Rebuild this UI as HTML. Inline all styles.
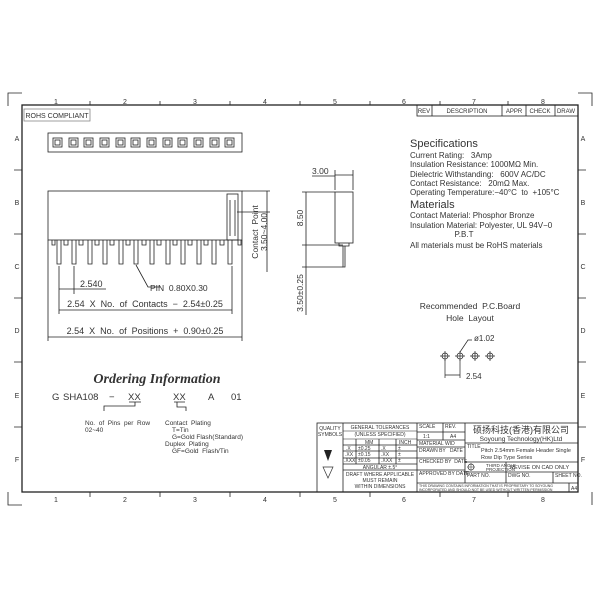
<!DOCTYPE html>
<html><head><meta charset="utf-8"><style>
body{margin:0;background:#fff}
svg{display:block}
text{font-family:"Liberation Sans","Noto Sans CJK SC",sans-serif;fill:#333;white-space:pre}
</style></head><body>
<svg width="600" height="600" viewBox="0 0 600 600" xmlns="http://www.w3.org/2000/svg" xml:space="preserve">
<g stroke="#222" fill="none" stroke-width="0.8">
<path d="M8,106 V93 H22 M578,93 H592 V106 M8,492 V505 H22 M592,492 V505"/>
<rect x="22" y="105" width="556" height="387" stroke-width="1.3"/>
<path d="M90,101 V105 M160,101 V105 M230,101 V105 M300,101 V105 M370,101 V105 M440,101 V105 M508,101 V105"/>
<path d="M90,492 V497 M160,492 V497 M230,492 V497 M300,492 V497 M370,492 V497 M440,492 V497 M508,492 V497"/>
<path d="M14,170 H22 M14,234 H22 M14,298 H22 M14,362 H22 M14,427 H22"/>
<path d="M578,170 H586 M578,234 H586 M578,298 H586 M578,362 H586 M578,427 H586"/>
<rect x="417" y="105" width="161" height="11"/>
<path d="M432,105V116 M502,105V116 M526,105V116 M555,105V116"/>
<rect x="24" y="109" width="66" height="12" stroke="#888"/>
<rect x="48" y="133" width="194" height="19"/>
</g>
<g font-size="7" text-anchor="middle">
<text x="56" y="104">1</text><text x="125" y="104">2</text><text x="195" y="104">3</text><text x="265" y="104">4</text><text x="335" y="104">5</text><text x="404" y="104">6</text><text x="474" y="104">7</text><text x="543" y="104">8</text>
<text x="56" y="502">1</text><text x="125" y="502">2</text><text x="195" y="502">3</text><text x="265" y="502">4</text><text x="335" y="502">5</text><text x="404" y="502">6</text><text x="474" y="502">7</text><text x="543" y="502">8</text>
<text x="17" y="141">A</text><text x="17" y="205">B</text><text x="17" y="269">C</text><text x="17" y="333">D</text><text x="17" y="398">E</text><text x="17" y="462">F</text>
<text x="583" y="141">A</text><text x="583" y="205">B</text><text x="583" y="269">C</text><text x="583" y="333">D</text><text x="583" y="398">E</text><text x="583" y="462">F</text>
</g>
<g font-size="6" text-anchor="middle">
<text x="424" y="113">REV</text><text x="467" y="113">DESCRIPTION</text><text x="514" y="113">APPR</text><text x="540" y="113">CHECK</text><text x="566" y="113">DRAW</text>
</g>
<text x="57" y="118" font-size="7" text-anchor="middle" fill="#777">ROHS COMPLIANT</text>
<g stroke="#222" fill="none" stroke-width="0.8">
<rect x="53" y="138" width="9" height="9"/><rect x="55" y="140" width="5" height="5"/>
<rect x="69" y="138" width="9" height="9"/><rect x="71" y="140" width="5" height="5"/>
<rect x="84" y="138" width="9" height="9"/><rect x="86" y="140" width="5" height="5"/>
<rect x="100" y="138" width="9" height="9"/><rect x="102" y="140" width="5" height="5"/>
<rect x="116" y="138" width="9" height="9"/><rect x="118" y="140" width="5" height="5"/>
<rect x="131" y="138" width="9" height="9"/><rect x="133" y="140" width="5" height="5"/>
<rect x="147" y="138" width="9" height="9"/><rect x="149" y="140" width="5" height="5"/>
<rect x="163" y="138" width="9" height="9"/><rect x="165" y="140" width="5" height="5"/>
<rect x="178" y="138" width="9" height="9"/><rect x="180" y="140" width="5" height="5"/>
<rect x="194" y="138" width="9" height="9"/><rect x="196" y="140" width="5" height="5"/>
<rect x="210" y="138" width="9" height="9"/><rect x="212" y="140" width="5" height="5"/>
<rect x="225" y="138" width="9" height="9"/><rect x="227" y="140" width="5" height="5"/>
<rect x="48" y="191" width="194" height="49"/>
<rect x="227" y="194" width="11" height="46"/>
<path d="M230,200 V236 M235,200 V236"/>
<path d="M52,240 v5 h3 v-5 M64,240 v5 h4 v-5 M79,240 v5 h4 v-5 M95,240 v5 h4 v-5 M110,240 v5 h4 v-5 M126,240 v5 h4 v-5 M142,240 v5 h4 v-5 M157,240 v5 h4 v-5 M173,240 v5 h4 v-5 M188,240 v5 h4 v-5 M204,240 v5 h4 v-5 M220,240 v5 h4 v-5 M238,240 v5 h3 v-5"/>
<path d="M57,240 V264 h4 V240 M72,240 V264 h4 V240 M88,240 V264 h4 V240 M103,240 V264 h4 V240 M119,240 V264 h4 V240 M134,240 V264 h4 V240 M150,240 V264 h4 V240 M166,240 V264 h4 V240 M181,240 V264 h4 V240 M197,240 V264 h4 V240 M212,240 V264 h4 V240 M228,240 V264 h4 V240"/>
<path d="M242,191 H270 M267,191 V272 M237,212 H270 M59,266 V314 M74,266 V294 M59,289 H106 M232,266 V314 M59,310 H232 M48,240 V341 M242,240 V341 M48,337 H242 M136,265 L148,287 H160"/>
<rect x="335" y="192" width="18" height="51"/>
<path d="M339,243 v3 h10 v-3 M343,246 V267 h2 V246"/>
<path d="M335,170 V190 M353,170 V190 M335,175 H353 M312,176 H335 M302,192 H335 M306,192 V315 M302,245 H343 M302,267 H343"/>
<g stroke-width="0.7">
<circle cx="445" cy="356" r="3"/><path d="M440,356h10M445,351v10"/>
<circle cx="460" cy="356" r="3"/><path d="M455,356h10M460,351v10"/>
<circle cx="475" cy="356" r="3"/><path d="M470,356h10M475,351v10"/>
<circle cx="490" cy="356" r="3"/><path d="M485,356h10M490,351v10"/>
<path d="M445,360 V378 M460,360 V378 M445,375 H460 M460,352 L468,340 H472"/>
</g>
<path d="M104,411 V406 H135 V402 M129,402 H141 M174,402 H185 M177,402 V407 H186 V411"/>
<rect x="317" y="423" width="261" height="69"/>
<path d="M343,423 V492 M417,423 V492 M443,423 V440 M465,423 V483 M417,483 H578 M417,432 H465 M417,440 H465 M417,447 H465 M417,458 H465 M417,470 H465 M465,443 H578 M465,462 H578 M465,472 H578 M506,462 V483 M553,472 V483 M569,483 V492 M343,445 H417 M343,451 H417 M343,458 H417 M343,464 H417 M343,470 H417 M356,439 V464 M379,439 V464 M396,439 V464"/>
<path d="M343,439 H417 M343,431 H417" stroke-width="0.5"/>
</g>
<g fill="#333">
<text x="80" y="287" font-size="9">2.540</text>
<text x="150" y="291" font-size="8.5">PIN  0.80X0.30</text>
<text x="145" y="307" font-size="9" text-anchor="middle">2.54  X  No.  of  Contacts  −  2.54±0.25</text>
<text x="145" y="334" font-size="9" text-anchor="middle">2.54  X  No.  of  Positions  +  0.90±0.25</text>
<text x="312" y="174" font-size="8.5">3.00</text>
<text transform="translate(258,232) rotate(-90)" font-size="8.5" text-anchor="middle">Contact  Point</text>
<text transform="translate(267,232) rotate(-90)" font-size="8.5" text-anchor="middle">3.50~4.00</text>
<text transform="translate(303,218) rotate(-90)" font-size="8.5" text-anchor="middle">8.50</text>
<text transform="translate(303,293) rotate(-90)" font-size="8.5" text-anchor="middle">3.50±0.25</text>
<text x="410" y="147" font-size="11">Specifications</text>
<text x="410" y="158" font-size="8">Current Rating:   3Amp</text>
<text x="410" y="167" font-size="8">Insulation Resistance: 1000MΩ Min.</text>
<text x="410" y="177" font-size="8">Dielectric Withstanding:   600V AC/DC</text>
<text x="410" y="186" font-size="8">Contact Resistance:   20mΩ Max.</text>
<text x="410" y="195" font-size="8">Operating Temperature:−40°C  to  +105°C</text>
<text x="410" y="208" font-size="11">Materials</text>
<text x="410" y="218" font-size="8">Contact Material: Phosphor Bronze</text>
<text x="410" y="228" font-size="8">Insulation Material: Polyester, UL 94V−0</text>
<text x="464" y="237" font-size="8" text-anchor="middle">P.B.T</text>
<text x="410" y="248" font-size="8">All materials must be RoHS materials</text>
<text x="470" y="309" font-size="8.5" text-anchor="middle">Recommended  P.C.Board</text>
<text x="470" y="321" font-size="8.5" text-anchor="middle">Hole  Layout</text>
<text x="474" y="341" font-size="8">ø1.02</text>
<text x="466" y="379" font-size="8">2.54</text>
<text x="157" y="383" font-size="14" font-weight="bold" font-style="italic" text-anchor="middle" style="font-family:'Liberation Serif',serif">Ordering Information</text>
<g font-size="9.5">
<text x="52" y="400">G</text><text x="63" y="400">SHA108</text><text x="109" y="400">−</text><text x="128" y="400">XX</text><text x="173" y="400">XX</text><text x="208" y="400">A</text><text x="231" y="400">01</text>
</g>
<g font-size="6.5">
<text x="85" y="425">No.  of  Pins  per  Row</text>
<text x="85" y="432">02~40</text>
<text x="165" y="425">Contact  Plating</text>
<text x="172" y="432">T=Tin</text>
<text x="172" y="439">G=Gold Flash(Standard)</text>
<text x="165" y="446">Duplex  Plating</text>
<text x="172" y="453">GF=Gold  Flash/Tin</text>
</g>
</g>
<g font-size="5" fill="#333">
<text x="330" y="430" text-anchor="middle">QUALITY</text><text x="330" y="436" text-anchor="middle">SYMBOLS</text>
<text x="380" y="429" text-anchor="middle">GENERAL TOLERANCES</text><text x="380" y="436" text-anchor="middle">(UNLESS SPECIFIED)</text>
<text x="365" y="444">MM</text><text x="399" y="444">INCH</text>
<text x="346" y="450">.X</text><text x="358" y="450">±0.25</text><text x="381" y="450">.X</text><text x="398" y="450">±</text>
<text x="345" y="456">.XX</text><text x="358" y="456">±0.15</text><text x="381" y="456">.XX</text><text x="398" y="456">±</text>
<text x="344" y="462">.XXX</text><text x="358" y="462">±0.05</text><text x="381" y="462">.XXX</text><text x="398" y="462">±</text>
<text x="380" y="469" text-anchor="middle">ANGULAR ±.5°</text>
<text x="380" y="476" text-anchor="middle">DRAFT WHERE APPLICABLE</text>
<text x="380" y="482" text-anchor="middle">MUST REMAIN</text>
<text x="380" y="488" text-anchor="middle">WITHIN DIMENSIONS</text>
<text x="419" y="428">SCALE</text><text x="445" y="428">REV.</text>
<text x="423" y="438">1:1</text><text x="450" y="438">A4</text>
<text x="419" y="445">MATERIAL</text><text x="445" y="445">WID</text>
<text x="419" y="452">DRAWN BY   DATE</text>
<text x="419" y="463">CHECKED BY  DATE</text>
<text x="419" y="475">APPROVED BY DATE</text>
<text x="467" y="448">TITLE</text>
<text x="481" y="452" font-size="5.5">Pitch 2.54mm Female Header Single</text>
<text x="481" y="459" font-size="5.5">Row Dip Type Series</text>
<text x="486" y="467" font-size="4.5">THIRD ANGLE</text><text x="486" y="471" font-size="4.5">PROJECTION</text>
<text x="510" y="469" font-size="5.5">REVISE ON CAD ONLY</text>
<text x="467" y="477">PART NO.</text><text x="508" y="477">DWG NO.</text><text x="555" y="477">SHEET NO.</text>
<text x="419" y="487" font-size="3.5">THIS DRAWING CONTAINS INFORMATION THAT IS PROPRIETARY TO SOYOUNG</text>
<text x="419" y="491" font-size="3.5">INCORPORATED AND SHOULD NOT BE USED WITHOUT WRITTEN PERMISSION</text>
<text x="571" y="490">A4</text>
</g>
<text x="521" y="433" font-size="9" fill="#333" text-anchor="middle">硕扬科技(香港)有限公司</text>
<text x="521" y="441" font-size="6.5" fill="#333" text-anchor="middle">Soyoung Technology(HK)Ltd</text>
<path d="M324,450 L332,450 L328,461 Z" fill="#222"/>
<path d="M323,467 L333,467 L328,478 Z" fill="none" stroke="#333" stroke-width="0.7"/>
<circle cx="471" cy="467" r="3" fill="none" stroke="#333" stroke-width="0.7"/>
<path d="M467,467h8M471,463v8" stroke="#333" stroke-width="0.5"/>
</svg>
</body></html>
